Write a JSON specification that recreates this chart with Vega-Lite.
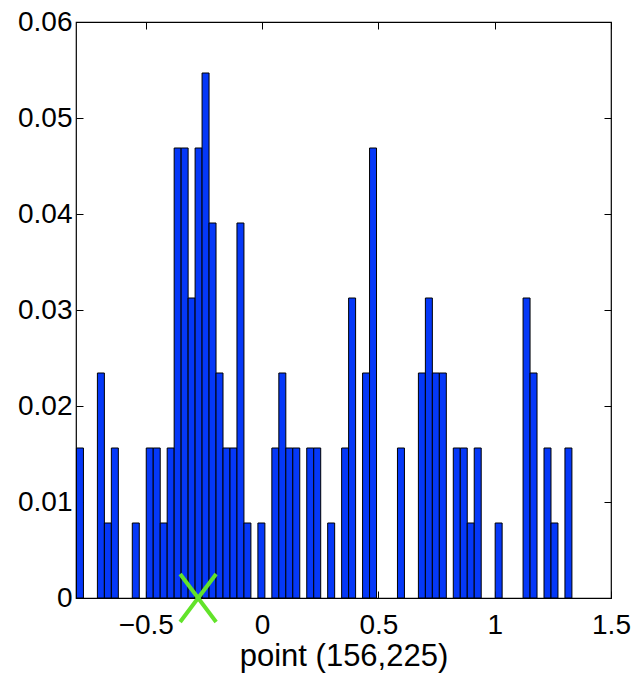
{
  "$schema": "https://vega.github.io/schema/vega-lite/v6.json",
  "autosize": {"type": "none"},
  "padding": {"left": 76, "top": 22, "right": 23, "bottom": 86},
  "width": 535,
  "height": 576,
  "background": "white",
  "config": {
    "view": {"stroke": "black", "strokeWidth": 1.2},
    "font": "Liberation Sans",
    "axis": {
      "grid": false,
      "domain": false,
      "tickColor": "black",
      "tickSize": -7,
      "tickWidth": 1,
      "labelFlush": false,
      "labelOverlap": false,
      "labelFont": "Liberation Sans",
      "labelFontSize": 28,
      "labelColor": "black",
      "titleFont": "Liberation Sans",
      "titleFontSize": 31,
      "titleFontWeight": "normal",
      "titleColor": "black"
    }
  },
  "datasets": {
    "bins": [
      {"bin_start": -0.798, "bin_end": -0.768, "p": 0.015625},
      {"bin_start": -0.708, "bin_end": -0.678, "p": 0.0234375},
      {"bin_start": -0.678, "bin_end": -0.648, "p": 0.0078125},
      {"bin_start": -0.648, "bin_end": -0.618, "p": 0.015625},
      {"bin_start": -0.558, "bin_end": -0.528, "p": 0.0078125},
      {"bin_start": -0.498, "bin_end": -0.468, "p": 0.015625},
      {"bin_start": -0.468, "bin_end": -0.438, "p": 0.015625},
      {"bin_start": -0.438, "bin_end": -0.408, "p": 0.0078125},
      {"bin_start": -0.408, "bin_end": -0.378, "p": 0.015625},
      {"bin_start": -0.378, "bin_end": -0.348, "p": 0.046875},
      {"bin_start": -0.348, "bin_end": -0.318, "p": 0.046875},
      {"bin_start": -0.318, "bin_end": -0.288, "p": 0.03125},
      {"bin_start": -0.288, "bin_end": -0.258, "p": 0.046875},
      {"bin_start": -0.258, "bin_end": -0.228, "p": 0.0546875},
      {"bin_start": -0.228, "bin_end": -0.198, "p": 0.0390625},
      {"bin_start": -0.198, "bin_end": -0.168, "p": 0.0234375},
      {"bin_start": -0.168, "bin_end": -0.138, "p": 0.015625},
      {"bin_start": -0.138, "bin_end": -0.108, "p": 0.015625},
      {"bin_start": -0.108, "bin_end": -0.078, "p": 0.0390625},
      {"bin_start": -0.078, "bin_end": -0.048, "p": 0.0078125},
      {"bin_start": -0.018, "bin_end": 0.012, "p": 0.0078125},
      {"bin_start": 0.042, "bin_end": 0.072, "p": 0.015625},
      {"bin_start": 0.072, "bin_end": 0.102, "p": 0.0234375},
      {"bin_start": 0.102, "bin_end": 0.132, "p": 0.015625},
      {"bin_start": 0.132, "bin_end": 0.162, "p": 0.015625},
      {"bin_start": 0.192, "bin_end": 0.222, "p": 0.015625},
      {"bin_start": 0.222, "bin_end": 0.252, "p": 0.015625},
      {"bin_start": 0.282, "bin_end": 0.312, "p": 0.0078125},
      {"bin_start": 0.342, "bin_end": 0.372, "p": 0.015625},
      {"bin_start": 0.372, "bin_end": 0.402, "p": 0.03125},
      {"bin_start": 0.432, "bin_end": 0.462, "p": 0.0234375},
      {"bin_start": 0.462, "bin_end": 0.492, "p": 0.046875},
      {"bin_start": 0.582, "bin_end": 0.612, "p": 0.015625},
      {"bin_start": 0.672, "bin_end": 0.702, "p": 0.0234375},
      {"bin_start": 0.702, "bin_end": 0.732, "p": 0.03125},
      {"bin_start": 0.732, "bin_end": 0.762, "p": 0.0234375},
      {"bin_start": 0.762, "bin_end": 0.792, "p": 0.0234375},
      {"bin_start": 0.822, "bin_end": 0.852, "p": 0.015625},
      {"bin_start": 0.852, "bin_end": 0.882, "p": 0.015625},
      {"bin_start": 0.882, "bin_end": 0.912, "p": 0.0078125},
      {"bin_start": 0.912, "bin_end": 0.942, "p": 0.015625},
      {"bin_start": 1.002, "bin_end": 1.032, "p": 0.0078125},
      {"bin_start": 1.122, "bin_end": 1.152, "p": 0.03125},
      {"bin_start": 1.152, "bin_end": 1.182, "p": 0.0234375},
      {"bin_start": 1.212, "bin_end": 1.242, "p": 0.015625},
      {"bin_start": 1.242, "bin_end": 1.272, "p": 0.0078125},
      {"bin_start": 1.302, "bin_end": 1.332, "p": 0.015625}
    ],
    "marker": [
      {"point": -0.275, "p": 0}
    ]
  },
  "layer": [
    {
      "data": {"name": "bins"},
      "mark": {"type": "rect", "fill": "#0538f8", "stroke": "black", "strokeWidth": 1},
      "encoding": {
        "x": {
          "field": "bin_start",
          "type": "quantitative",
          "scale": {"domain": [-0.8, 1.5], "nice": false, "zero": false},
          "axis": {"orient": "bottom", "values": [-0.5, 0, 0.5, 1, 1.5], "format": "~g", "labelPadding": 20, "title": "point (156,225)", "titlePadding": 2}
        },
        "x2": {"field": "bin_end"},
        "y": {
          "field": "p",
          "type": "quantitative",
          "scale": {"domain": [0, 0.06], "nice": false, "zero": true},
          "axis": {"orient": "left", "values": [0, 0.01, 0.02, 0.03, 0.04, 0.05, 0.06], "format": "~g", "labelPadding": 11, "title": null}
        },
        "y2": {"datum": 0}
      }
    },
    {
      "data": {"name": "marker"},
      "mark": {
        "type": "point",
        "shape": "M-0.75,-1L0.75,1M0.75,-1L-0.75,1",
        "size": 2304,
        "filled": false,
        "stroke": "#62e32a",
        "strokeWidth": 4,
        "opacity": 1,
        "clip": false
      },
      "encoding": {
        "x": {
          "field": "point",
          "type": "quantitative",
          "axis": {"orient": "top", "values": [-0.5, 0, 0.5, 1, 1.5], "labels": false, "title": null}
        },
        "y": {
          "field": "p",
          "type": "quantitative",
          "axis": {"orient": "right", "values": [0, 0.01, 0.02, 0.03, 0.04, 0.05, 0.06], "labels": false, "title": null}
        }
      }
    }
  ]
}
